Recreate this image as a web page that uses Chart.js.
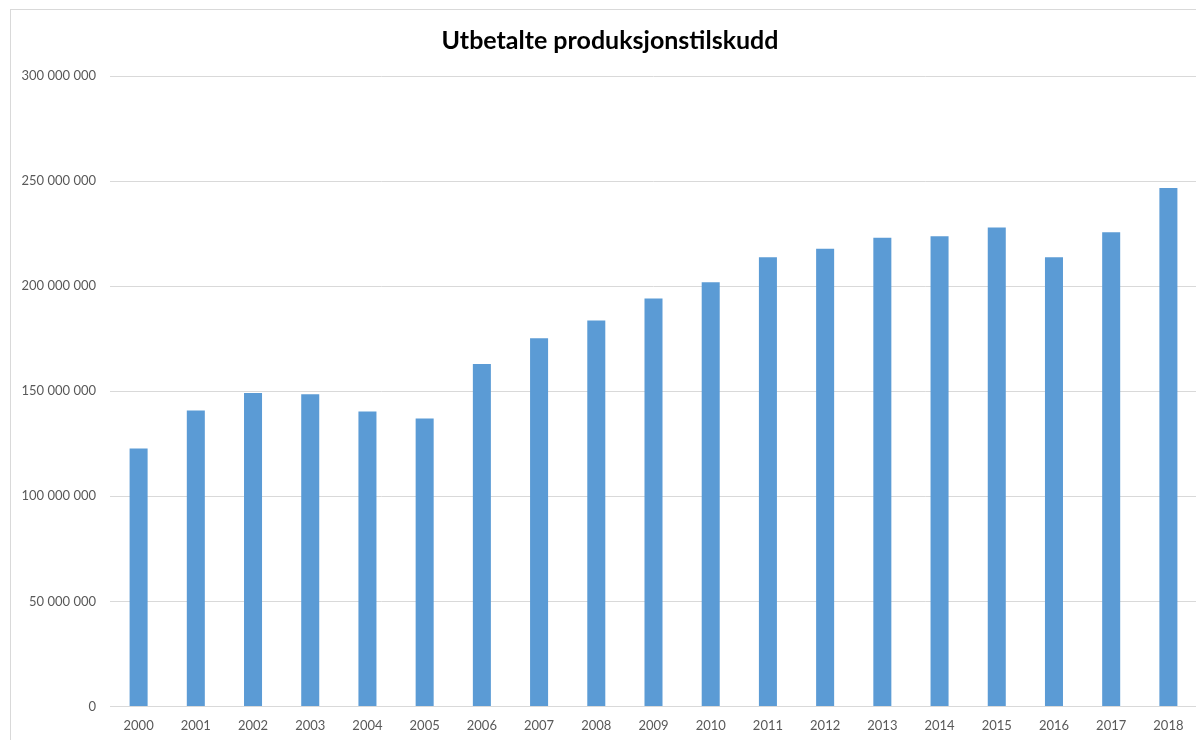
<!DOCTYPE html>
<html>
<head>
<meta charset="utf-8">
<title>Utbetalte produksjonstilskudd</title>
<script src="https://cdn.jsdelivr.net/npm/chart.js@4/dist/chart.umd.min.js"></script>
<style>
  html, body { margin: 0; padding: 0; background: #fff; overflow: hidden; }
  body { width: 1196px; height: 740px; position: relative; }
  #frame {
    position: absolute; left: 10px; top: 9px;
    width: 1198px; height: 736px;
    border-left: 1px solid #d9d9d9; border-top: 1px solid #d9d9d9;
  }
</style>
</head>
<body>
<div id="frame"><canvas id="chart" width="1198" height="736"></canvas></div>
<script>
// ─── Data ───────────────────────────────
const years = ["2000", "2001", "2002", "2003", "2004", "2005", "2006", "2007", "2008", "2009",
               "2010", "2011", "2012", "2013", "2014", "2015", "2016", "2017", "2018"];
const payouts = [122.7, 140.8, 149.2, 148.6, 140.3, 137.0, 163.0, 175.2, 183.7, 194.1,
                 201.8, 213.8, 217.8, 223.0, 223.7, 227.9, 213.7, 225.6, 246.7].map(v => v * 1e6);
const yMin = 0;
const yMax = 300000000;
const yStep = 50000000;

const fmt = v => String(Math.round(v)).replace(/\B(?=(\d{3})+(?!\d))/g, " ");

// ─── Chart ──────────────────────────────
const ctx = document.getElementById("chart").getContext("2d");
new Chart(ctx, {
  type: "bar",
  data: {
    labels: years,
    datasets: [{
      label: "Utbetalte produksjonstilskudd",
      data: payouts,
      backgroundColor: "#5b9bd5",
      borderWidth: 0,
      barPercentage: 0.315,
      categoryPercentage: 1,
    }],
  },
  options: {
    responsive: false,
    animation: false,
    layout: { padding: 0 },
    plugins: {
      legend: { display: false },
      tooltip: { enabled: false },
      title: {
        display: true,
        text: "Utbetalte produksjonstilskudd",
        color: "#000",
        font: { family: "Lato", size: 25, weight: "bold", lineHeight: 1.2 },
        padding: { top: 16, bottom: 20 },
      },
    },
    scales: {
      x: {
        grid: { display: false, drawTicks: false },
        border: { display: true, color: "#d9d9d9", width: 1 },
        ticks: { color: "#595959", font: { family: "Lato", size: 13 }, padding: 12, maxRotation: 0 },
      },
      y: {
        min: yMin,
        max: yMax,
        afterFit: axis => { axis.width = 99; },
        grid: { color: "#d9d9d9", drawTicks: false },
        border: { display: false },
        ticks: {
          stepSize: yStep,
          color: "#595959",
          font: { family: "Lato", size: 13 },
          padding: 14,
          callback: v => fmt(v),
        },
      },
      // empty spacer on the right so the plot stops at the window edge
      yRight: {
        type: "linear",
        position: "right",
        afterFit: axis => { axis.width = 12; },
        grid: { display: false, drawTicks: false },
        border: { display: false },
        ticks: { display: false },
      },
    },
  },
});
</script>
</body>
</html>
